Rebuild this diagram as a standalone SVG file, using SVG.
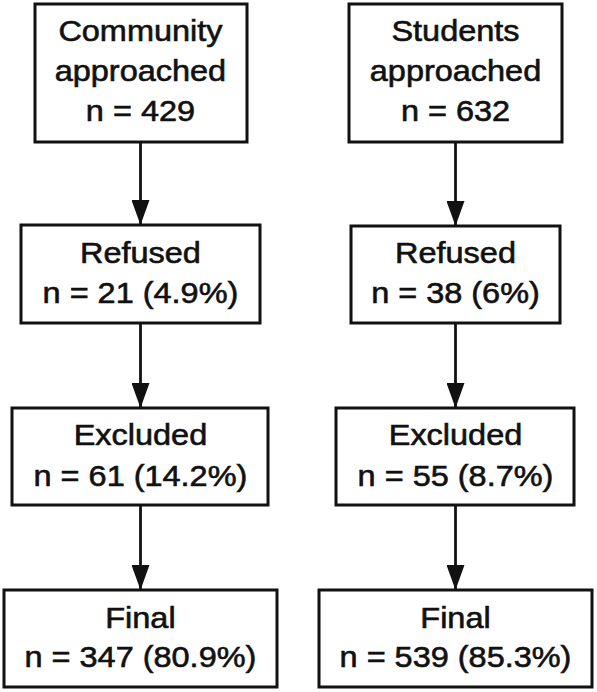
<svg xmlns="http://www.w3.org/2000/svg" width="597" height="692" viewBox="0 0 597 692">
<style>
.box{fill:#fff;stroke:#111;stroke-width:3}
.lbl{font-family:"Liberation Sans",Arial,sans-serif;font-size:29px;fill:#111;stroke:#111;stroke-width:0.6;text-anchor:middle}
.conn{stroke:#111;stroke-width:2.8;fill:none;marker-end:url(#ah)}
</style>
<defs>
<marker id="ah" viewBox="0 0 25 18" refX="25" refY="9" markerWidth="25" markerHeight="18" markerUnits="userSpaceOnUse" orient="auto">
<path d="M0,0 L25,9 L0,18 z" fill="#111"/>
</marker>
</defs>
<rect width="597" height="692" fill="#fff"/>
<g id="connectors">
<line class="conn" x1="140.5" y1="142" x2="140.5" y2="225"/>
<line class="conn" x1="140.5" y1="323" x2="140.5" y2="408"/>
<line class="conn" x1="140.5" y1="505" x2="140.5" y2="590"/>
<line class="conn" x1="455.5" y1="142" x2="455.5" y2="226"/>
<line class="conn" x1="455.5" y1="323" x2="455.5" y2="408"/>
<line class="conn" x1="455.5" y1="505" x2="455.5" y2="590"/>
</g>
<g id="community">
<rect class="box" x="35" y="4" width="212" height="138"/>
<g transform="scale(1.12 1)">
<text class="lbl" x="125.4" y="41">Community</text>
<text class="lbl" x="125.4" y="81">approached</text>
<text class="lbl" x="125.4" y="121">n = 429</text>
</g>
</g>
<g id="students">
<rect class="box" x="349" y="4" width="213" height="138"/>
<g transform="scale(1.12 1)">
<text class="lbl" x="406.7" y="41">Students</text>
<text class="lbl" x="406.7" y="81">approached</text>
<text class="lbl" x="406.7" y="121">n = 632</text>
</g>
</g>
<g id="refused-community">
<rect class="box" x="21" y="225" width="239" height="98"/>
<g transform="scale(1.12 1)">
<text class="lbl" x="125.4" y="263">Refused</text>
<text class="lbl" x="125.4" y="303">n = 21 (4.9%)</text>
</g>
</g>
<g id="refused-students">
<rect class="box" x="351" y="226" width="209" height="97"/>
<g transform="scale(1.12 1)">
<text class="lbl" x="406.7" y="263">Refused</text>
<text class="lbl" x="406.7" y="303">n = 38 (6%)</text>
</g>
</g>
<g id="excluded-community">
<rect class="box" x="12" y="408" width="256" height="97"/>
<g transform="scale(1.12 1)">
<text class="lbl" x="125.4" y="445">Excluded</text>
<text class="lbl" x="125.4" y="486">n = 61 (14.2%)</text>
</g>
</g>
<g id="excluded-students">
<rect class="box" x="336" y="408" width="238" height="97"/>
<g transform="scale(1.12 1)">
<text class="lbl" x="406.7" y="445">Excluded</text>
<text class="lbl" x="406.7" y="486">n = 55 (8.7%)</text>
</g>
</g>
<g id="final-community">
<rect class="box" x="4" y="590" width="273" height="97"/>
<g transform="scale(1.12 1)">
<text class="lbl" x="125.4" y="628">Final</text>
<text class="lbl" x="125.4" y="667">n = 347 (80.9%)</text>
</g>
</g>
<g id="final-students">
<rect class="box" x="319" y="590" width="273" height="97"/>
<g transform="scale(1.12 1)">
<text class="lbl" x="406.7" y="628">Final</text>
<text class="lbl" x="406.7" y="667">n = 539 (85.3%)</text>
</g>
</g>
</svg>
